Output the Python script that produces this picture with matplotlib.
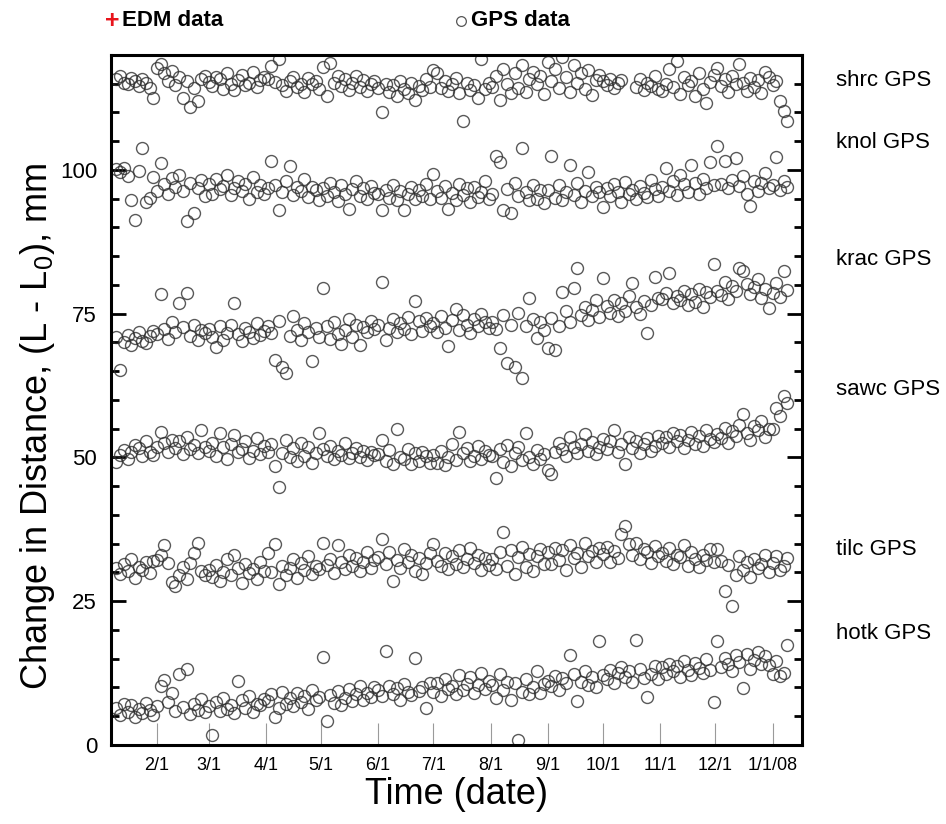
import matplotlib

matplotlib.use("Agg")
import matplotlib.pyplot as plt
import numpy as np
import pandas as pd
from matplotlib.lines import Line2D
from matplotlib.ticker import MultipleLocator, NullLocator

plt.rcParams["font.family"] = ["Liberation Sans", "DejaVu Sans"]
plt.rcParams["mathtext.fontset"] = "custom"
plt.rcParams["mathtext.rm"] = "Liberation Sans"

# GPS solutions every second day, 2007-01-10 .. 2008-01-09
FIRST_DAY = "2007-01-10"
STEP_DAYS = 2
nan = np.nan

# values grouped per month: Jan, Feb, ..., Dec, Jan 08
shrc = [
    115.8, 116.3, 115.2, 114.9, 116.0, 115.5, 114.6, 115.9, 115.1, 114.3, 112.6,
    117.8, 118.4, 116.9, 115.5, 117.2, 114.8, 116.1, 112.6, 115.4, 110.9, 114.2, 112.0, 115.8, 116.4,
    115.3, 114.6, 116.2, 115.9, 114.1, 116.8, 115.0, 113.9, 115.7, 116.5, 114.8, 115.2, 117.0, 114.5, 115.6, 116.1,
    115.9, 118.1, 115.3, 119.3, 114.7, 113.8, 115.5, 116.2, 114.4, 115.0, 113.6, 116.0, 114.9, 115.4, 114.1,
    117.9, 112.8, 118.6, 115.2, 116.4, 114.6, 115.9, 113.9, 115.1, 116.3, 114.5, 115.7, 113.7, 114.9, 115.4,
    114.3, 110.1, 115.0, 113.6, 114.8, 112.9, 115.5, 114.1, 113.3, 115.2, 112.2, 114.6, 113.9, 115.8, 114.4,
    117.4, 116.8, 114.2, 115.5, 113.7, 114.9, 116.0, 113.4, 108.6, 115.1, 113.9, 114.7, 112.6, 119.3, 114.0, 115.2,
    114.5, 116.3, 112.1, 117.5, 115.0, 113.3, 116.9, 114.2, 118.2, 113.6, 115.8, 117.1, 114.9, 116.4, 113.2,
    118.8, 115.5, 117.6, 114.3, 119.7, 116.2, 113.5, 118.3, 115.1, 116.8, 114.0, 117.3, 113.1, 115.7, 116.5,
    115.4, 114.7, 115.9, 114.3, 115.1, 115.6, nan, nan, nan, 114.5, 115.8, 113.9, 115.2, 114.6, 116.3, 114.0,
    113.8, 115.0, 117.6, 114.4, 118.9, 113.2, 116.1, 114.7, 115.5, 112.9, 116.8, 114.1, 111.6, 115.3, 116.6,
    117.8, 114.6, 115.9, 113.5, 116.3, 114.9, 118.5, 115.2, 113.8, 116.0, 114.4, 115.7, 113.3, 117.1, 116.2,
    114.8, 115.5, 112.0, 110.3, 108.6,
]
knol = [
    100.2, 99.6, 100.4, 98.9, 94.8, 91.3, 99.8, 103.9, 94.5, 95.2, 98.8,
    96.4, 101.2, 97.5, 95.8, 98.6, 97.0, 99.2, 96.3, 91.2, 97.8, 92.6, 96.9, 98.3, 95.4,
    97.6, 95.9, 98.4, 96.7, 97.2, 99.1, 95.6, 96.9, 98.0, 96.3, 97.5, 94.9, 98.7, 96.1, 97.3, 95.8,
    96.8, 101.5, 97.4, 93.0, 96.2, 98.1, 100.7, 95.7, 97.0, 96.4, 98.5, 95.3, 97.1, 96.6, 94.8,
    96.9, 95.4, 97.8, 96.1, 94.6, 97.3, 95.9, 93.2, 96.7, 98.0, 95.5, 96.8, 94.9, 97.2, 96.0,
    95.8, 93.1, 96.6, 95.2, 97.4, 94.7, 96.3, 93.0, 95.9, 97.1, 94.9, 96.5, 95.4, 97.6, 95.0,
    99.3, 96.4, 95.1, 97.2, 93.2, 96.0, 94.8, 97.5, 95.6, 96.9, 94.4, 97.0, 95.3, 96.2, 98.1, 94.9,
    95.9, 102.4, 101.3, 93.1, 96.7, 92.6, 97.8, 95.4, 103.8, 96.2, 94.7, 97.3, 95.0, 96.5, 94.3,
    96.6, 102.5, 95.2, 97.4, 94.8, 96.1, 100.9, 95.7, 97.8, 94.5, 96.4, 99.6, 95.5, 97.0, 96.2,
    93.6, 96.8, 95.4, 97.5, 96.1, 94.4, 97.9, 95.8, 96.6, 94.9, 97.2, 96.0, 95.3, 98.2, 96.7, 95.5,
    97.1, 100.4, 96.3, 98.0, 95.7, 99.2, 97.5, 96.1, 100.9, 97.8, 95.9, 98.4, 96.8, 101.3, 97.4,
    104.2, 97.6, 101.5, 96.9, 98.3, 102.1, 97.2, 99.0, 95.8, 93.7, 98.0, 96.4, 97.7, 99.4, 96.8,
    97.4, 102.2, 96.5, 98.1, 97.0,
]
krac = [
    70.9, 65.2, 70.1, 71.3, 69.6, 70.7, 71.8, 70.3, 69.9, 71.1, 72.0,
    71.5, 78.5, 72.4, 70.6, 73.5, 71.9, 76.8, 72.7, 78.6, 71.2, 73.0, 70.4, 72.1, 71.6,
    72.3, 71.0, 69.2, 72.8, 70.5, 71.7, 73.1, 76.8, 71.4, 70.2, 72.6, 71.9, 70.8, 73.4, 71.3, 72.0,
    72.9, 71.6, 66.9, 73.8, 65.8, 64.7, 71.1, 74.6, 72.2, 70.4, 73.3, 71.8, 66.7, 72.5, 70.9,
    79.4, 72.8, 70.6, 73.5, 71.4, 69.8, 72.2, 74.1, 71.0, 73.0, 69.5, 72.7, 71.8, 73.7, 72.4,
    73.1, 80.5, 70.4, 72.6, 74.0, 71.9, 73.4, 72.3, 74.5, 71.5, 77.2, 73.7, 72.0, 74.3, 72.9,
    73.4, 71.8, 74.6, 72.5, 69.4, 73.9, 75.9, 72.2, 74.8, 73.0, 71.6, 74.1, 72.8, 75.0, 73.5, 72.6,
    73.6, 72.4, 69.0, 74.7, 66.4, 73.1, 65.7, 75.2, 63.8, 72.8, 77.7, 74.0, 70.8, 73.5, 72.1,
    69.1, 74.3, 68.7, 72.9, 78.8, 75.4, 73.6, 79.4, 82.9, 74.8, 76.2, 73.9, 75.7, 77.4, 74.5,
    81.2, 76.3, 75.1, 77.4, 74.6, 76.8, 75.5, 78.0, 80.3, 76.1, 74.9, 77.2, 71.6, 76.5, 81.4, 77.8,
    77.5, 78.6, 82.0, 76.9, 78.1, 77.3, 79.0, 76.5, 78.4, 77.0, 79.3, 76.2, 78.7, 77.9, 83.6,
    79.0, 78.2, 80.5, 77.6, 79.8, 78.9, 82.9, 82.5, 80.1, 78.5, 79.6, 81.0, 77.8, 79.3, 76.0,
    78.6, 80.3, 77.9, 82.4, 79.1,
]
sawc = [
    49.2, 50.4, 51.3, 49.8, 50.9, 52.1, 51.6, 50.2, 52.8, 51.0, 50.5,
    51.8, 54.4, 52.5, 50.9, 53.0, 51.7, 52.9, 50.6, 53.5, 51.4, 52.2, 50.8, 54.8, 51.9,
    51.2, 52.6, 50.3, 54.2, 51.8, 49.7, 52.4, 53.9, 50.9, 51.5, 52.8, 49.9, 51.1, 53.3, 50.6, 52.0,
    51.0, 52.3, 48.5, 44.8, 50.7, 53.1, 50.0, 51.6, 49.4, 52.5, 50.3, 51.9, 49.1, 50.8, 54.3,
    51.4, 50.2, 52.0, 49.7, 51.1, 50.5, 52.6, 49.9, 50.8, 51.7, 50.1, 51.2, 49.5, 50.9, 50.4,
    50.6, 53.0, 49.4, 51.3, 48.8, 55.0, 50.1, 49.7, 51.5, 48.9, 50.8, 49.3, 51.0, 50.2, 49.0,
    50.5, 49.1, 51.2, 48.7, 50.0, 52.4, 49.6, 54.4, 50.8, 51.6, 49.3, 50.2, 52.0, 49.8, 51.1, 50.4,
    50.3, 46.4, 51.5, 49.2, 52.1, 48.6, 50.7, 51.8, 49.5, 54.3, 50.0, 48.9, 51.3, 49.8, 50.6,
    47.8, 47.2, 50.9, 52.6, 51.4, 50.3, 53.6, 51.9, 50.8, 52.3, 54.0, 51.1, 52.7, 50.6, 51.8,
    53.2, 51.5, 52.8, 54.7, 51.0, 52.3, 48.9, 53.6, 51.7, 52.9, 50.8, 52.4, 53.3, 51.2, 52.0, 53.8,
    52.6, 53.5, 51.9, 54.2, 52.8, 53.9, 51.6, 53.1, 54.5, 52.3, 53.7, 52.0, 54.8, 53.2, 52.7,
    54.0, 53.3, 55.1, 52.6, 54.6, 53.8, 55.6, 57.5, 54.2, 53.0, 55.4, 54.7, 56.3, 53.6, 54.9,
    55.0, 58.6, 57.2, 60.7, 59.5,
]
tilc = [
    30.8, 29.7, 31.4, 30.2, 32.3, 29.1, 31.0, 30.5, 31.8, 29.9, 32.0,
    32.2, 33.1, 34.8, 31.6, 28.4, 27.6, 29.5, 30.9, 28.8, 31.7, 33.4, 35.1, 30.2, 29.6,
    30.4, 29.2, 31.3, 28.5, 30.0, 32.4, 29.6, 33.1, 30.8, 28.1, 31.5, 29.9, 30.6, 28.9, 31.9, 30.3,
    33.4, 30.1, 35.0, 28.0, 31.2, 29.5, 30.7, 32.3, 29.0, 31.6, 30.4, 32.9, 29.8, 31.1, 30.6,
    35.1, 31.3, 32.4, 29.9, 34.7, 31.8, 30.6, 33.0, 31.1, 32.6, 30.2, 31.9, 33.5, 30.8, 32.1,
    32.7, 35.8, 31.4, 33.6, 28.5, 32.2, 30.7, 34.1, 31.9, 33.0, 30.3, 32.5, 29.8, 31.6, 33.3,
    34.9, 32.0, 31.1, 33.4, 30.6, 32.8, 31.5, 33.9, 30.9, 32.3, 34.2, 31.7, 33.1, 30.4, 32.6, 31.3,
    32.4, 30.6, 33.5, 37.0, 31.2, 33.9, 29.8, 32.7, 34.4, 31.0, 33.2, 30.2, 32.9, 34.0, 31.5,
    33.6, 31.4, 34.3, 32.1, 33.9, 30.5, 34.7, 32.6, 33.3, 31.0, 35.1, 32.8, 33.7, 31.8, 34.2,
    33.2, 34.5, 31.9, 33.8, 32.5, 36.7, 38.1, 34.9, 33.0, 35.2, 32.3, 34.1, 33.5, 31.7, 34.6, 32.9,
    33.4, 32.0, 34.2, 31.5, 33.0, 32.7, 34.8, 31.2, 33.6, 32.4, 30.9, 33.1, 32.2, 34.0, 31.8,
    34.1, 32.0, 26.7, 31.3, 24.2, 29.6, 32.8, 30.5, 31.9, 29.2, 32.4, 30.8, 31.5, 33.0, 30.1,
    31.6, 32.9, 30.4, 31.1, 32.5,
]
hotk = [
    6.4, 5.2, 7.1, 5.8, 6.9, 4.9, 6.2, 5.5, 7.3, 6.0, 5.3,
    6.8, 10.2, 11.3, 7.4, 9.1, 5.9, 12.4, 6.6, 13.3, 5.4, 7.2, 6.1, 8.0, 5.7,
    6.7, 1.8, 7.5, 5.9, 8.1, 6.3, 7.0, 5.6, 11.2, 7.8, 6.4, 8.6, 5.8, 7.2, 6.9, 8.0,
    7.6, 8.8, 4.9, 6.5, 9.3, 7.1, 8.2, 6.8, 9.0, 7.4, 8.5, 6.2, 9.6, 7.9, 8.3,
    15.3, 4.1, 8.7, 7.3, 9.4, 6.9, 8.1, 9.8, 7.6, 8.9, 10.2, 7.8, 9.1, 8.4, 10.0,
    9.6, 8.5, 16.4, 10.3, 8.9, 9.9, 7.8, 10.6, 9.2, 8.7, 15.2, 9.4, 10.0, 6.5, 10.7,
    9.3, 10.8, 8.6, 11.4, 9.7, 10.2, 8.9, 12.1, 9.5, 10.6, 11.8, 9.0, 10.4, 12.6, 9.8, 11.1,
    10.4, 8.1, 12.3, 9.6, 11.0, 7.9, 10.7, 0.9, 9.3, 11.5, 8.8, 10.1, 12.8, 9.0, 10.6,
    11.2, 10.3, 12.0, 9.6, 11.7, 10.8, 15.6, 12.4, 7.6, 11.0, 12.9, 10.5, 11.9, 10.1, 18.1,
    12.1, 11.4, 13.0, 10.8, 12.6, 13.5, 11.9, 12.8, 10.9, 18.2, 13.2, 11.6, 8.3, 12.4, 13.7, 11.5,
    13.5, 12.4, 14.1, 12.9, 13.8, 11.8, 14.6, 13.0, 12.2, 14.3, 13.4, 12.6, 14.9, 13.1, 7.4,
    18.0, 13.6, 15.2, 14.0, 12.8, 15.6, 14.4, 9.9, 15.9, 13.3, 14.8, 16.1, 14.1, 15.4, 13.9,
    12.3, 14.6, 12.0, 12.6, 17.4,
]

STATIONS = ["shrc", "knol", "krac", "sawc", "tilc", "hotk"]
SERIES = [shrc, knol, krac, sawc, tilc, hotk]
LABEL_Y = [115.5, 104.7, 84.5, 61.8, 34.0, 19.4]

MONTH_TICKS = [
    "2007-02-01", "2007-03-01", "2007-04-01", "2007-05-01", "2007-06-01", "2007-07-01",
    "2007-08-01", "2007-09-01", "2007-10-01", "2007-11-01", "2007-12-01", "2008-01-01",
]
MONTH_LABELS = ["2/1", "3/1", "4/1", "5/1", "6/1", "7/1", "8/1", "9/1", "10/1", "11/1", "12/1", "1/1/08"]
Y_TICKS = [0, 25, 50, 75, 100]

for values in SERIES:
    assert len(values) == len(shrc)
dates = pd.date_range(FIRST_DAY, periods=len(shrc), freq=f"{STEP_DAYS}D")

fig = plt.figure(figsize=(9.46, 8.24), dpi=100)
ax = fig.add_axes([0.1173, 0.0959, 0.7305, 0.8374])

for values in SERIES:
    ax.plot(
        dates,
        values,
        linestyle="none",
        marker="o",
        markersize=8.6,
        markerfacecolor="none",
        markeredgecolor="#303030",
        markeredgewidth=1.0,
        alpha=0.8,
    )

for name, y in zip(STATIONS, LABEL_Y):
    ax.text(1.049, y, f"{name} GPS", transform=ax.get_yaxis_transform(),
            fontsize=16, va="center", ha="left")

ax.set_xlim(pd.Timestamp("2007-01-07"), pd.Timestamp("2008-01-17"))
ax.set_ylim(0, 120)

ax.set_xticks(pd.to_datetime(MONTH_TICKS))
ax.set_xticklabels(MONTH_LABELS)
ax.xaxis.set_minor_locator(NullLocator())
ax.tick_params(axis="x", direction="in", length=16, width=0.8, color="#9a9a9a",
               labelsize=13, pad=9, top=False)

ax.set_yticks(Y_TICKS)
ax.yaxis.set_minor_locator(MultipleLocator(5))
ax.tick_params(axis="y", which="major", direction="in", length=11, width=2,
               labelsize=16, left=True, right=True, pad=10)
ax.tick_params(axis="y", which="minor", direction="in", length=6, width=2,
               left=True, right=True)

for spine in ax.spines.values():
    spine.set_linewidth(2.2)

ax.set_xlabel("Time (date)", fontsize=26, labelpad=2)
ax.set_ylabel(r"Change in Distance, (L - L$_{\mathregular{0}}$), mm", fontsize=26)
ax.yaxis.set_label_coords(-0.078, 0.462)

# legend row above the frame
fig.text(112 / 946, 1 - 21 / 824, "+", color="#e8141c", fontsize=18, fontweight="bold",
         ha="center", va="center")
fig.text(122 / 946, 1 - 21 / 824, "EDM data", fontsize=16, fontweight="bold", va="center")
fig.add_artist(Line2D([461 / 946], [1 - 21 / 824], transform=fig.transFigure, marker="o",
                      markersize=7, markerfacecolor="none", markeredgecolor="#555555",
                      markeredgewidth=0.9, linestyle="none"))
fig.text(471 / 946, 1 - 21 / 824, "GPS data", fontsize=16, fontweight="bold", va="center")

fig.savefig("out.png", dpi=100)
plt.close(fig)
